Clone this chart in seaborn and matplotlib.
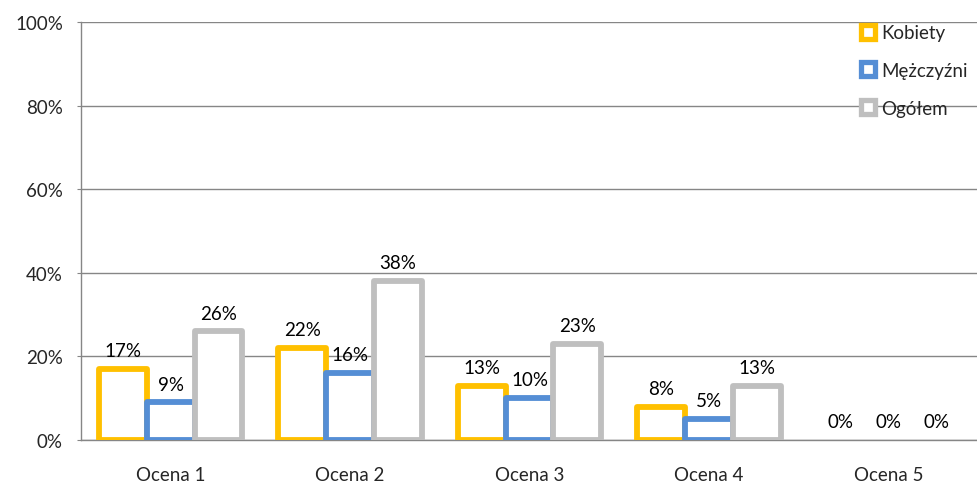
import seaborn as sns
import pandas as pd
import numpy as np
import matplotlib.pyplot as plt
from matplotlib.lines import Line2D

categories = ['Ocena 1', 'Ocena 2', 'Ocena 3', 'Ocena 4', 'Ocena 5']
kobiety = [17, 22, 13, 8, 0]
mezczyzni = [9, 16, 10, 5, 0]
ogolem = [26, 38, 23, 13, 0]
series = ['Kobiety', 'Mężczyźni', 'Ogółem']
colors = ['#FFC000', '#558ED5', '#BFBFBF']

rows = []
for name, vals in zip(series, [kobiety, mezczyzni, ogolem]):
    for c, v in zip(categories, vals):
        rows.append([c, name, v])
df = pd.DataFrame(rows, columns=['ocena', 'grupa', 'proc'])

sns.set_style('white')
plt.rcParams['font.family'] = ['Lato', 'DejaVu Sans']
fs = 13.5

fig = plt.figure(figsize=(9.78, 4.85), dpi=100)
ax = fig.add_axes([81/978, 44/485, 1 - 81/978, 418/485])

sns.barplot(data=df, x='ocena', y='proc', hue='grupa', palette=colors,
            width=0.8, ax=ax, legend=False)

# puste słupki z grubą ramką
for cont, col in zip(ax.containers, colors):
    for p in cont.patches:
        p.set_facecolor('white')
        p.set_edgecolor(col)
        p.set_linewidth(4.2)
        p.set_joinstyle('round')
        p.set_zorder(3)
        if p.get_height() == 0:
            p.set_linewidth(0)
    ax.bar_label(cont, labels=[f'{int(round(h))}%' for h in cont.datavalues],
                 padding=7, fontsize=fs, color='black')

ax.set_ylim(0, 100)
ax.set_xlim(-0.5, 4.5)
ax.set_yticks(range(0, 101, 20))
ax.set_yticklabels([f'{t}%' for t in range(0, 101, 20)])
ax.set_xlabel('')
ax.set_ylabel('')
ax.grid(axis='y', color='#868686', linewidth=1)
ax.set_axisbelow(True)
for s in ['top', 'right']:
    ax.spines[s].set_visible(False)
for s in ['left', 'bottom']:
    ax.spines[s].set_color('#868686')
    ax.spines[s].set_linewidth(1)
ax.tick_params(axis='y', left=True, length=3, color='#868686', pad=10, labelsize=fs)
ax.tick_params(axis='x', bottom=False, pad=15, labelsize=fs)

handles = [Line2D([], [], linestyle='none', marker='s', markersize=10,
                  markerfacecolor='white', markeredgecolor=c, markeredgewidth=3.8)
           for c in colors]
ax.legend(handles, series, loc='upper left', bbox_to_anchor=(851/978, 1 - 16/485),
          bbox_transform=fig.transFigure, frameon=False, fontsize=fs,
          labelspacing=1.1, handlelength=0.8, handletextpad=0.3, borderpad=0)

fig.savefig('out.png', dpi=100)
